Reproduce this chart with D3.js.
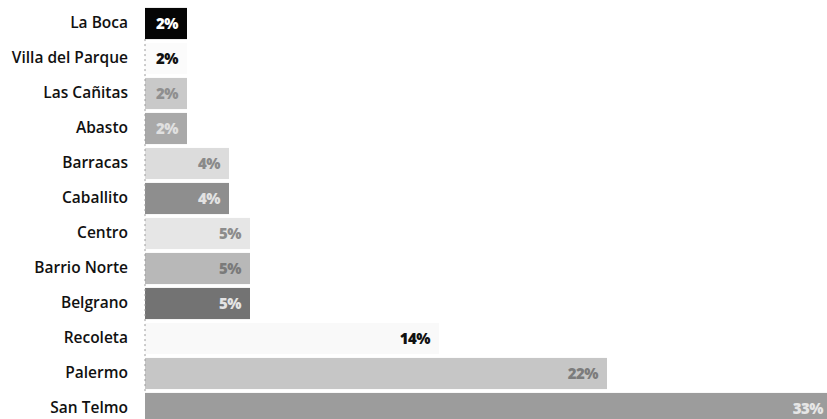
<!DOCTYPE html>
<html>
<head>
<meta charset="utf-8">
<script src="https://cdn.jsdelivr.net/npm/d3@7"></script>
<style>
  html, body { margin: 0; padding: 0; background: #fff; }
  svg { display: block; }
</style>
</head>
<body>
<svg id="chart" width="827" height="419"></svg>
<script>
const categories = ["La Boca", "Villa del Parque", "Las Cañitas", "Abasto", "Barracas", "Caballito",
  "Centro", "Barrio Norte", "Belgrano", "Recoleta", "Palermo", "San Telmo"];
const values = [2, 2, 2, 2, 4, 4, 5, 5, 5, 14, 22, 33];
const valueLabels = ["2%", "2%", "2%", "2%", "4%", "4%", "5%", "5%", "5%", "14%", "22%", "33%"];

// styling palette (bar fill, label fill)
const barFills = ["#050505", "#fbfbfb", "#c9c9c9", "#a9a9a9", "#dcdcdc", "#8e8e8e",
  "#e6e6e6", "#b8b8b8", "#737373", "#f9f9f9", "#c6c6c6", "#9c9c9c"];
const textFills = ["#ffffff", "#111111", "#8f8f8f", "#e0e0e0", "#8a8a8a", "#e2e2e2",
  "#8c8c8c", "#7a7a7a", "#e4e4e4", "#111111", "#7c7c7c", "#e6e6e6"];

const W = 827;
const svg = d3.select("#chart");
const x0 = 145;
const x = d3.scaleLinear().domain([0, 33]).range([x0, 838]);
const y = d3.scaleBand().domain(categories).range([6, 426]).paddingInner(0.11).paddingOuter(0.055);

const font = "'Open Sans', 'DejaVu Sans', sans-serif";

// category labels via axis
const yAxis = svg.append("g")
  .attr("transform", `translate(${x0 - 17},0)`)
  .call(d3.axisLeft(y).tickSize(0).tickPadding(0));
yAxis.select(".domain").remove();
yAxis.selectAll("text")
  .attr("font-family", font)
  .attr("font-size", 15.5)
  .attr("font-weight", 600)
  .attr("fill", "#111");

// bars
svg.append("g").selectAll("rect")
  .data(categories)
  .join("rect")
  .attr("x", x(0))
  .attr("y", d => y(d))
  .attr("width", (d, i) => x(values[i]) - x(0))
  .attr("height", y.bandwidth())
  .attr("fill", (d, i) => barFills[i]);

// faint baseline
svg.append("line")
  .attr("x1", x0).attr("x2", x0)
  .attr("y1", y(categories[0]) + y.bandwidth())
  .attr("y2", y(categories[categories.length - 1]))
  .attr("stroke", "#9a9a9a")
  .attr("stroke-width", 1)
  .attr("stroke-dasharray", "2,3");

// value labels
svg.append("g").selectAll("text")
  .data(categories)
  .join("text")
  .attr("x", (d, i) => Math.min(x(values[i]) - 9, W - 4))
  .attr("y", d => y(d) + y.bandwidth() / 2)
  .attr("dy", "0.36em")
  .attr("text-anchor", "end")
  .attr("font-family", font)
  .attr("font-size", 15)
  .attr("font-weight", 800)
  .attr("letter-spacing", "-0.5")
  .attr("fill", (d, i) => textFills[i])
  .text((d, i) => valueLabels[i]);
</script>
</body>
</html>
